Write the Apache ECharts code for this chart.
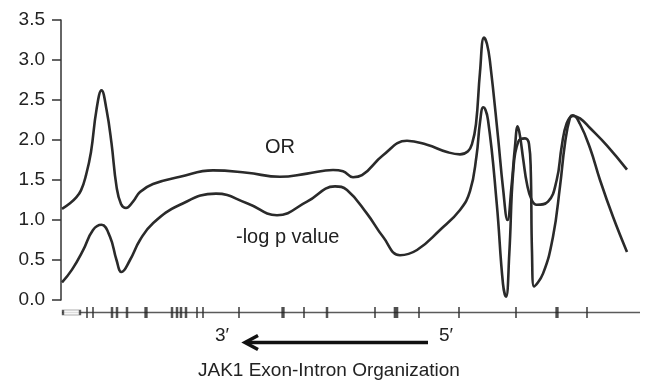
<!DOCTYPE html>
<html>
<head>
<meta charset="utf-8">
<script src="https://cdn.jsdelivr.net/npm/echarts@6/dist/echarts.min.js"></script>
<style>html,body{margin:0;padding:0;background:#fff}#c{width:645px;height:384px}</style>
</head>
<body>
<div id="c"></div>
<script>
// Position along the JAK1 gene (arbitrary units) and values
var orData = [
  [62,1.14],[70,1.21],[76,1.28],[81,1.37],[86,1.56],[91,1.85],[96.5,2.38],[101.5,2.62],[106.5,2.38],
  [111.5,1.96],[116.5,1.42],[121,1.20],[126,1.15],[133,1.23],[140,1.35],[153,1.45],
  [180,1.54],[213,1.62],[247,1.59],[280,1.54],[307,1.58],[333,1.625],[343,1.61],
  [353,1.535],[362,1.56],[383,1.81],[407,1.99],[427,1.94],[447,1.85],[460,1.82],
  [468,1.86],[472,1.95],[476,2.2],[480,2.85],[484,3.28],[487,3.2],[490,2.98],
  [498,2.04],[503,1.4],[507.5,1.0],[511.5,1.42],[515,1.92],[517.7,2.17],[520,2.05],
  [523.3,1.75],[527,1.45],[531.7,1.25],[536.7,1.19],[548,1.23],[556.7,1.5],
  [561.7,1.92],[566.7,2.21],[573,2.3],[580,2.27],[590,2.15],[607,1.93],[627,1.63]
];
var logpData = [
  [62,0.22],[72,0.38],[83,0.62],[93,0.875],[101.5,0.94],[110,0.79],[116.5,0.5],
  [121.5,0.35],[130,0.5],[140,0.75],[153,0.96],[180,1.19],[216,1.33],[247,1.21],
  [277,1.06],[307,1.23],[335,1.42],[347,1.375],[367,1.08],[383,0.79],[400,0.56],
  [417,0.625],[440,0.875],[460,1.125],[470,1.36],[476.5,1.8],[480,2.22],[483.3,2.41],
  [488,2.25],[496.7,1.21],[503,0.2],[506,0.04],[509.3,0.58],[513.3,1.62],[518.3,1.98],
  [525,2.02],[529,1.95],[530.8,1.6],[532,0.6],[534,0.17],[543,0.33],[553,0.79],
  [560,1.42],[565,1.96],[570,2.28],[573,2.31],[580,2.2],[590,1.9],[600,1.5],
  [613,1.04],[627,0.6]
];
// Exon-intron structure
var exonThin = [87,93,197,203,239,304,375,419,459,516,587];
var exonMid = [112,117,127,172,177,181,186,327];
var exonThick = [146,283,557];
var exonWide = [396];
var utrBox = [71.5];
var geneSpan = [62,640];
var yTicks = [0,0.5,1,1.5,2,2.5,3,3.5];

var FONT = 'Liberation Sans, Arial, Helvetica, sans-serif';
var INK = '#2a2a2a';

function pts(arr){return arr.map(function(x){return [x,0];});}

var chart = echarts.init(document.getElementById('c'), null, {renderer:'canvas'});
chart.setOption({
  animation:false,
  backgroundColor:'#fff',
  grid:[
    {left:61, top:20, width:579, height:280, containLabel:false},
    {left:61, top:304, width:579, height:17, containLabel:false}
  ],
  xAxis:[
    {type:'value', gridIndex:0, min:61, max:640, show:false},
    {type:'value', gridIndex:1, min:61, max:640, show:false}
  ],
  yAxis:[
    {type:'value', gridIndex:0, min:yTicks[0], max:yTicks[yTicks.length-1], interval:0.5,
     axisLine:{show:true, lineStyle:{color:'#333', width:1.5}},
     axisTick:{show:true, length:9, lineStyle:{color:'#333', width:1.5}},
     splitLine:{show:false},
     axisLabel:{margin:16, fontSize:19, color:'#222', fontFamily:FONT,
       formatter:function(v){return v.toFixed(1);}}},
    {type:'value', gridIndex:1, min:-1, max:1, show:false}
  ],
  series:[
    {type:'line', name:'OR', data:orData, smooth:0.45, symbol:'none',
     lineStyle:{color:INK, width:2.6}, xAxisIndex:0, yAxisIndex:0},
    {type:'line', name:'-log p value', data:logpData, smooth:0.45, symbol:'none',
     lineStyle:{color:INK, width:2.6}, xAxisIndex:0, yAxisIndex:0},
    {type:'line', data:pts(geneSpan), symbol:'none', lineStyle:{color:'#5a5a5a', width:1.6},
     xAxisIndex:1, yAxisIndex:1, z:1},
    {type:'scatter', data:pts(exonThin), symbol:'rect', symbolSize:[1.8,11],
     itemStyle:{color:'#333'}, xAxisIndex:1, yAxisIndex:1, z:3},
    {type:'scatter', data:pts(exonMid), symbol:'rect', symbolSize:[2.5,11],
     itemStyle:{color:'#2a2a2a'}, xAxisIndex:1, yAxisIndex:1, z:3},
    {type:'scatter', data:pts(exonThick), symbol:'rect', symbolSize:[3.3,11],
     itemStyle:{color:'#222'}, xAxisIndex:1, yAxisIndex:1, z:3},
    {type:'scatter', data:pts(exonWide), symbol:'rect', symbolSize:[4.6,11],
     itemStyle:{color:'#222'}, xAxisIndex:1, yAxisIndex:1, z:3},
    {type:'scatter', data:pts(utrBox), symbol:'rect', symbolSize:[17,5],
     itemStyle:{color:'#fff', borderColor:'#333', borderWidth:1.3}, xAxisIndex:1, yAxisIndex:1, z:4}
  ],
  graphic:[
    {type:'text', left:265, top:137, style:{text:'OR', fontSize:20, fontFamily:FONT, fill:'#222'}},
    {type:'text', left:236, top:227, style:{text:'-log p value', fontSize:20, fontFamily:FONT, fill:'#222'}},
    {type:'text', left:215, top:326, style:{text:'3\u2032', fontSize:19, fontFamily:FONT, fill:'#222'}},
    {type:'text', left:439, top:326, style:{text:'5\u2032', fontSize:19, fontFamily:FONT, fill:'#222'}},
    {type:'line', shape:{x1:428, y1:342.5, x2:246, y2:342.5}, style:{stroke:'#111', lineWidth:3.5}},
    {type:'polyline', shape:{points:[[258,335.5],[245,342.5],[258,349.5]]},
     style:{stroke:'#111', lineWidth:3.5, fill:null, lineJoin:'miter'}},
    {type:'text', left:198, top:361, style:{text:'JAK1 Exon-Intron Organization', fontSize:19, fontFamily:FONT, fill:'#222'}}
  ]
});
</script>
</body>
</html>
